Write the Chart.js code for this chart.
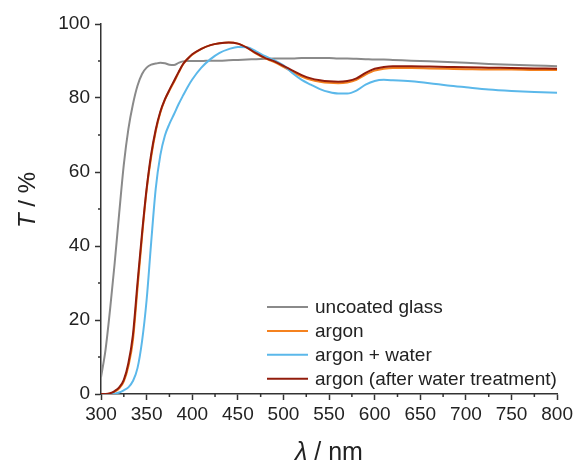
<!DOCTYPE html>
<html>
<head>
<meta charset="utf-8">
<script src="https://cdn.jsdelivr.net/npm/chart.js@4"></script>
<style>
  html, body { margin: 0; padding: 0; background: #fff; }
  #wrap { width: 576px; height: 463px; }
</style>
</head>
<body>
<div id="wrap"><canvas id="mycan" width="576" height="463"></canvas></div>
<script>
// wavelengths (nm)
var wl = [300, 305, 310, 315, 320, 325, 330, 335, 340, 345, 350, 355, 360, 365, 370, 375, 380, 385, 390, 395,
  400, 410, 420, 430, 440, 450, 460, 470, 480, 490, 500, 510, 520, 530, 540, 550, 560, 570, 580, 590,
  600, 610, 620, 640, 660, 680, 700, 725, 750, 775, 800];

var glass = [4.5, 12, 23, 35.4, 49, 62, 71.6, 78.3, 83.3, 86.5, 88.2, 89.0, 89.3, 89.5, 89.4, 89.0, 88.9, 89.5, 89.9, 90.0,
  90.0, 90.0, 90.1, 90.1, 90.2, 90.3, 90.4, 90.5, 90.6, 90.7, 90.7, 90.7, 90.8, 90.8, 90.8, 90.8, 90.7, 90.7, 90.6, 90.5,
  90.4, 90.4, 90.3, 90.1, 89.9, 89.7, 89.5, 89.2, 89.0, 88.8, 88.6];

var argon = [0, 0, 0.1, 0.6, 1.5, 3.4, 7.5, 14.5, 28.5, 42.5, 55, 64, 71, 76, 79.5, 82, 84.3, 86.8, 89.1, 90.6,
  91.7, 93.3, 94.3, 94.8, 95.0, 94.7, 93.6, 92.0, 90.7, 89.7, 88.4, 87.0, 85.8, 84.9, 84.4, 84.1, 84.0, 84.2, 84.9, 86.3,
  87.4, 87.9, 88.1, 88.1, 88.0, 87.9, 87.8, 87.7, 87.7, 87.6, 87.6];

var argonWater = [0, 0, 0, 0.1, 0.4, 1.0, 1.8, 3.5, 7, 14.3, 25.4, 41, 55.5, 64.5, 69.8, 73, 75.6, 78.3, 80.7, 83,
  85, 88.2, 90.5, 92.2, 93.2, 93.8, 93.7, 92.6, 91.3, 90.2, 88.8, 86.7, 84.9, 83.6, 82.4, 81.6, 81.2, 81.2, 82.0, 83.6,
  84.6, 84.9, 84.8, 84.5, 84.0, 83.4, 82.9, 82.3, 81.9, 81.6, 81.4];

var argonAfter = [0, 0, 0.2, 0.8, 1.8, 3.8, 8.3, 16, 30, 43.5, 55.5, 64.8, 71.5, 76.3, 79.6, 82.2, 84.6, 87, 89.2, 90.6,
  91.8, 93.3, 94.3, 94.8, 95.0, 94.7, 93.6, 92.1, 90.8, 89.9, 88.7, 87.4, 86.2, 85.3, 84.8, 84.5, 84.4, 84.6, 85.3, 86.8,
  87.9, 88.4, 88.6, 88.6, 88.5, 88.4, 88.3, 88.2, 88.1, 88.0, 87.9];

var names = ['uncoated glass', 'argon', 'argon + water', 'argon (after water treatment)'];
var colors = ['#8a8a8a', '#f5821f', '#5bb8ea', '#921c0c'];
var series = [glass, argon, argonWater, argonAfter];
var layers = [4, 3, 2, 1];

var xMinor = [325, 375, 425, 475, 525, 575, 625, 675, 725, 775];
var yMinor = [10, 30, 50, 70, 90];

var FONT = "'Liberation Sans', Arial, sans-serif";
var INK = '#222';

function pts(ys) {
  var out = [];
  for (var i = 0; i < wl.length; i++) out.push({ x: wl[i], y: ys[i] });
  return out;
}

var datasets = [];
for (var i = 0; i < series.length; i++) {
  datasets.push({
    label: names[i],
    data: pts(series[i]),
    borderColor: colors[i],
    backgroundColor: colors[i],
    borderWidth: 2,
    pointRadius: 0,
    fill: false,
    cubicInterpolationMode: 'monotone',
    order: layers[i]
  });
}

// minor ticks, axis titles and the legend box
var extras = {
  id: 'extras',
  afterDraw: function(chart) {
    var c = chart.ctx, xs = chart.scales.x, ys = chart.scales.y, a = chart.chartArea;
    c.save();
    c.strokeStyle = '#333';
    c.lineWidth = 1.5;
    c.beginPath();
    xMinor.forEach(function(v) {
      var px = xs.getPixelForValue(v);
      c.moveTo(px, a.bottom); c.lineTo(px, a.bottom + 3);
    });
    yMinor.forEach(function(v) {
      var py = ys.getPixelForValue(v);
      c.moveTo(a.left, py); c.lineTo(a.left - 3, py);
    });
    c.stroke();

    // x title
    c.fillStyle = INK;
    c.textBaseline = 'alphabetic';
    c.font = 'italic 25px ' + FONT;
    var p1 = 'λ', p2 = ' / nm';
    var w1 = c.measureText(p1).width;
    c.font = '25px ' + FONT;
    var w2 = c.measureText(p2).width;
    var x0 = 329 - (w1 + w2) / 2;
    c.font = 'italic 25px ' + FONT;
    c.fillText(p1, x0, 460);
    c.font = '25px ' + FONT;
    c.fillText(p2, x0 + w1, 460);

    // y title
    c.save();
    c.translate(35, 200);
    c.rotate(-Math.PI / 2);
    c.font = 'italic 24px ' + FONT;
    var q1 = 'T', q2 = ' / %';
    var v1 = c.measureText(q1).width;
    c.font = '24px ' + FONT;
    var v2 = c.measureText(q2).width;
    var y0 = -(v1 + v2) / 2;
    c.font = 'italic 24px ' + FONT;
    c.fillText(q1, y0, 0);
    c.font = '24px ' + FONT;
    c.fillText(q2, y0 + v1, 0);
    c.restore();

    // legend
    c.font = '19px ' + FONT;
    c.textBaseline = 'middle';
    for (var k = 0; k < names.length; k++) {
      var ly = 307 + k * 23.9;
      c.strokeStyle = colors[k];
      c.lineWidth = 2;
      c.beginPath();
      c.moveTo(267, ly); c.lineTo(308, ly);
      c.stroke();
      c.fillStyle = INK;
      c.fillText(names[k], 315, ly + 1);
    }
    c.restore();
  }
};

var ctx = document.getElementById('mycan');
var chart = new Chart(ctx, {
  type: 'line',
  data: { datasets: datasets },
  plugins: [extras],
  options: {
    responsive: false,
    animation: false,
    layout: { padding: { top: 24, right: 17, left: 0, bottom: 0 } },
    plugins: { legend: { display: false }, tooltip: { enabled: false } },
    scales: {
      x: {
        type: 'linear',
        min: 300,
        max: 800,
        afterFit: function(s) { s.height = 69; },
        border: { color: '#333', width: 1.5 },
        grid: { drawOnChartArea: false, tickLength: 6, tickColor: '#333', tickWidth: 1.5 },
        ticks: { stepSize: 50, padding: 3, color: INK, font: { family: FONT, size: 19 }, maxRotation: 0 }
      },
      y: {
        min: 0,
        max: 100,
        afterFit: function(s) { s.width = 101; },
        border: { color: '#333', width: 1.5 },
        grid: { drawOnChartArea: false, tickLength: 6, tickColor: '#333', tickWidth: 1.5 },
        ticks: { stepSize: 20, padding: 5, color: INK, font: { family: FONT, size: 19 } }
      }
    }
  }
});
</script>
</body>
</html>
